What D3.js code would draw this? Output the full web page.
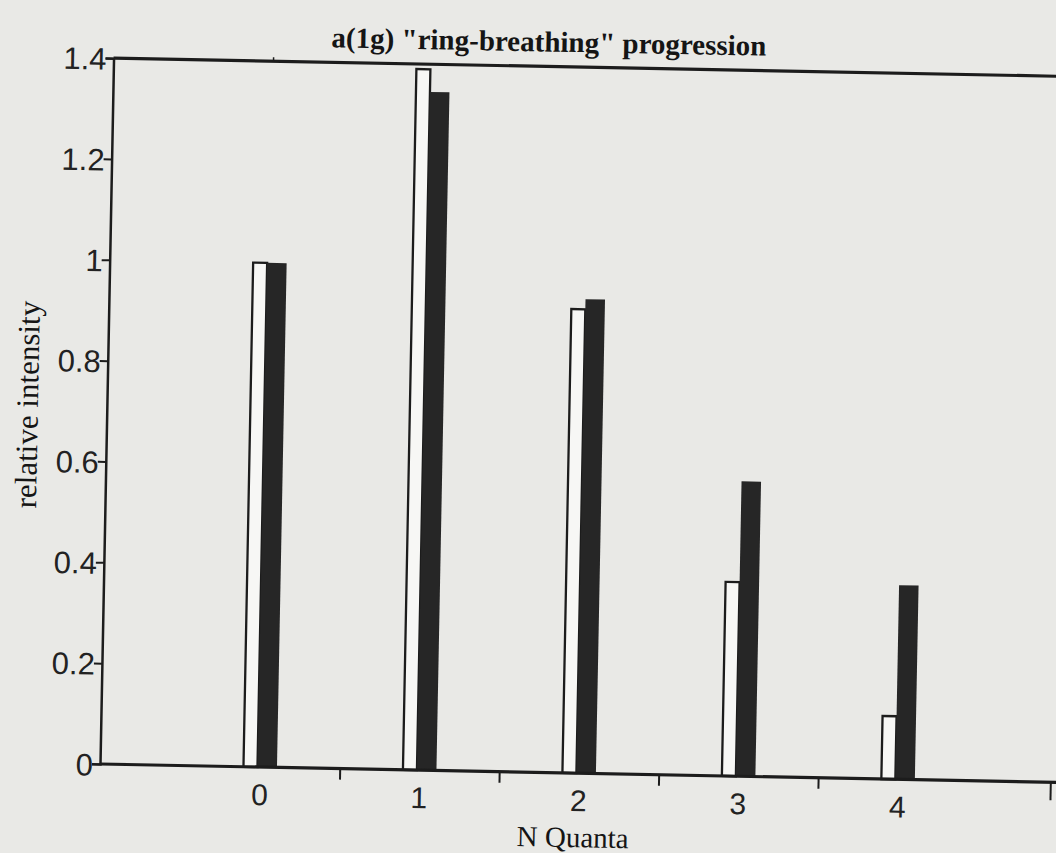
<!DOCTYPE html>
<html>
<head>
<meta charset="utf-8">
<script src="https://cdn.jsdelivr.net/npm/d3@7"></script>
<style>
  html, body { margin: 0; padding: 0; background: #e9e9e6; }
  svg { display: block; }
</style>
</head>
<body>
<svg id="chart" width="1056" height="853"></svg>
<script>
const categories = [0, 1, 2, 3, 4];
const openValues = [1.0, 1.39, 0.92, 0.385, 0.125];
const filledValues = [1.0, 1.345, 0.94, 0.585, 0.385];
const yTicks = [0, 0.2, 0.4, 0.6, 0.8, 1, 1.2, 1.4];
const xTickBetween = [0.5, 1.5, 2.5, 3.5];
const titleText = 'a(1g) "ring-breathing" progression';
const xTitle = "N Quanta";
const yTitle = "relative intensity";

(function () {
const W = 1056, H = 853;
const plotLeft = 100, plotBottom = 764, plotTop = 58, rightEnd = 1062;
const ink = "#1c1c1c";

const svg = d3.select("#chart");
svg.append("rect").attr("width", W).attr("height", H).attr("fill", "#e9e9e6");

// scanned page is slightly rotated
const g = svg.append("g").attr("transform", `rotate(1.1, ${plotLeft}, ${plotBottom})`);

const x = d3.scaleLinear().domain([-1, 5]).range([plotLeft + 0.5, plotLeft + 0.5 + 6 * 159.5]);
const y = d3.scaleLinear().domain([0, 1.4]).range([plotBottom, plotTop]);

// bars
const grp = g.append("g");
categories.forEach((c, i) => {
  const cx = x(c);
  grp.append("rect")
    .attr("x", cx - 16.5).attr("width", 14)
    .attr("y", y(openValues[i])).attr("height", y(0) - y(openValues[i]))
    .attr("fill", "#f7f7f5").attr("stroke", ink).attr("stroke-width", 2.3);
  grp.append("rect")
    .attr("x", cx - 2.5).attr("width", 19.5)
    .attr("y", y(filledValues[i])).attr("height", y(0) - y(filledValues[i]))
    .attr("fill", "#262626");
});

// y axis
const yAxis = d3.axisLeft(y).tickValues(yTicks).tickSize(8).tickPadding(-1)
  .tickFormat(d => d === 0 ? "0" : d3.format("~g")(d));
const ya = g.append("g").attr("transform", `translate(${plotLeft},0)`).call(yAxis);
ya.select(".domain").attr("stroke", ink).attr("stroke-width", 2.5);
ya.selectAll(".tick line").attr("stroke", ink).attr("stroke-width", 2);
ya.selectAll(".tick text")
  .attr("font-family", "'Liberation Sans', Arial, sans-serif")
  .attr("font-size", 31).attr("fill", "#222").attr("dy", "0.36em");

// x axis (tick marks between categories)
const xAxis = d3.axisBottom(x).tickValues(xTickBetween).tickSize(11).tickFormat("");
const xa = g.append("g").attr("transform", `translate(0,${plotBottom})`).call(xAxis);
xa.select(".domain").remove();
xa.selectAll(".tick line").attr("stroke", ink).attr("stroke-width", 2);
g.append("line").attr("x1", plotLeft).attr("x2", rightEnd).attr("y1", plotBottom).attr("y2", plotBottom)
  .attr("stroke", ink).attr("stroke-width", 3.2);
// right end mark
g.append("line").attr("x1", 1051).attr("x2", 1051).attr("y1", plotBottom).attr("y2", plotBottom + 18)
  .attr("stroke", ink).attr("stroke-width", 2);

// category labels
g.append("g").selectAll("text").data(categories).join("text")
  .attr("x", d => x(d)).attr("y", plotBottom + 38)
  .attr("text-anchor", "middle")
  .attr("font-family", "'Liberation Sans', Arial, sans-serif")
  .attr("font-size", 30).attr("fill", "#222")
  .text(d => d);

// top frame
g.append("line").attr("x1", plotLeft).attr("x2", rightEnd).attr("y1", y(1.4)).attr("y2", y(1.4))
  .attr("stroke", ink).attr("stroke-width", 3.2);
g.append("line").attr("x1", x(0)).attr("x2", x(0)).attr("y1", y(1.4)).attr("y2", y(1.4) - 4)
  .attr("stroke", ink).attr("stroke-width", 1.5);

// titles
g.append("text").attr("x", 535).attr("y", 43).attr("text-anchor", "middle")
  .attr("font-family", "'Liberation Serif', 'Times New Roman', serif")
  .attr("font-weight", "bold").attr("font-size", 29).attr("fill", "#151515")
  .text(titleText);

g.append("text").attr("x", 574).attr("y", 838).attr("text-anchor", "middle")
  .attr("font-family", "'Liberation Serif', 'Times New Roman', serif")
  .attr("font-size", 29).attr("fill", "#151515")
  .text(xTitle);

g.append("text").attr("transform", `translate(31,406) rotate(-90)`)
  .attr("text-anchor", "middle")
  .attr("font-family", "'Liberation Serif', 'Times New Roman', serif")
  .attr("font-size", 31).attr("fill", "#151515")
  .text(yTitle);
})();
</script>
</body>
</html>
